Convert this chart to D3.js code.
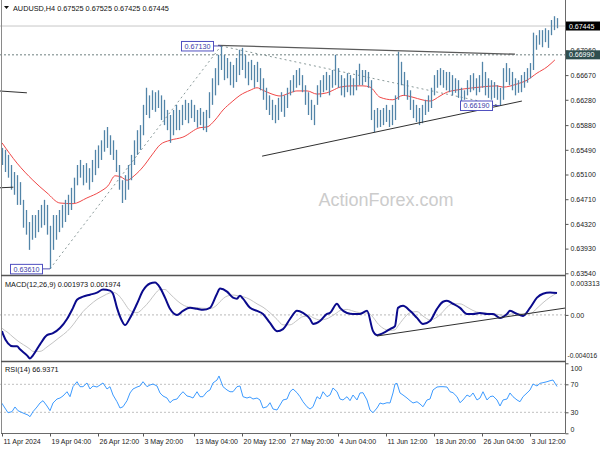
<!DOCTYPE html>
<html><head><meta charset="utf-8">
<script src="https://cdn.jsdelivr.net/npm/d3@7"></script>
<style>body{margin:0;background:#fff}svg{display:block}text{font-family:"Liberation Sans",Arial,sans-serif}</style>
</head><body><svg id="c" width="600" height="450"></svg>
<script>
// ---------- DATA ----------
const symbol = "AUDUSD,H4";
const titleOHLC = [0.67525, 0.67525, 0.67425, 0.67445];
const lastPrice = 0.67445;
const levelPrice = 0.66990;

const highs = [0.6552,0.6549,0.6541,0.6525,0.6514,0.6509,0.6498,0.6470,0.6454,0.6435,
0.6446,0.6446,0.6454,0.6462,0.6470,0.6462,0.6429,0.6446,0.6446,0.6454,
0.6462,0.6470,0.6478,0.6489,0.6505,0.6525,0.6533,0.6525,0.6528,0.6520,
0.6533,0.6549,0.6556,0.6564,0.6580,0.6585,0.6572,0.6564,0.6549,0.6525,
0.6501,0.6509,0.6525,0.6541,0.6564,0.6580,0.6588,0.6620,0.6647,0.6635,
0.6643,0.6640,0.6643,0.6635,0.6628,0.6612,0.6604,0.6612,0.6620,0.6612,
0.6620,0.6628,0.6623,0.6628,0.6620,0.6612,0.6615,0.6609,0.6612,0.6640,
0.6662,0.6678,0.6699,0.6713,0.6699,0.6694,0.6688,0.6683,0.6694,0.6707,
0.6710,0.6699,0.6688,0.6691,0.6683,0.6688,0.6678,0.6662,0.6647,0.6635,
0.6628,0.6620,0.6631,0.6640,0.6635,0.6647,0.6659,0.6667,0.6675,0.6678,
0.6667,0.6651,0.6640,0.6628,0.6620,0.6651,0.6659,0.6667,0.6672,0.6667,
0.6675,0.6699,0.6678,0.6667,0.6662,0.6670,0.6667,0.6662,0.6675,0.6685,
0.6675,0.6675,0.6672,0.6659,0.6612,0.6615,0.6612,0.6615,0.6620,0.6612,
0.6620,0.6635,0.6704,0.6688,0.6672,0.6659,0.6643,0.6628,0.6620,0.6615,
0.6620,0.6628,0.6635,0.6647,0.6667,0.6675,0.6678,0.6675,0.6672,0.6672,
0.6667,0.6662,0.6659,0.6647,0.6643,0.6659,0.6667,0.6670,0.6662,0.6667,
0.6688,0.6672,0.6662,0.6659,0.6656,0.6651,0.6647,0.6678,0.6686,0.6678,
0.6672,0.6662,0.6659,0.6667,0.6672,0.6678,0.6686,0.6734,0.6730,0.6738,
0.6738,0.6741,0.6738,0.6754,0.6760,0.6757];
const lows = [0.6525,0.6514,0.6505,0.6486,0.6478,0.6462,0.6462,0.6426,0.6415,0.6391,
0.6407,0.6410,0.6419,0.6426,0.6430,0.6415,0.6361,0.6391,0.6407,0.6419,
0.6426,0.6435,0.6446,0.6454,0.6465,0.6493,0.6505,0.6493,0.6497,0.6486,
0.6498,0.6509,0.6520,0.6533,0.6546,0.6552,0.6541,0.6533,0.6514,0.6486,
0.6465,0.6470,0.6486,0.6501,0.6525,0.6541,0.6549,0.6572,0.6604,0.6599,
0.6612,0.6609,0.6615,0.6596,0.6588,0.6580,0.6560,0.6572,0.6580,0.6580,
0.6588,0.6596,0.6591,0.6599,0.6593,0.6584,0.6588,0.6580,0.6577,0.6599,
0.6620,0.6635,0.6651,0.6675,0.6659,0.6662,0.6651,0.6647,0.6656,0.6667,
0.6675,0.6662,0.6651,0.6659,0.6647,0.6656,0.6643,0.6628,0.6612,0.6604,
0.6596,0.6591,0.6596,0.6609,0.6601,0.6615,0.6635,0.6640,0.6647,0.6651,
0.6640,0.6620,0.6604,0.6596,0.6588,0.6620,0.6632,0.6640,0.6643,0.6635,
0.6647,0.6651,0.6647,0.6635,0.6632,0.6640,0.6635,0.6635,0.6643,0.6651,
0.6651,0.6656,0.6647,0.6596,0.6577,0.6584,0.6585,0.6588,0.6593,0.6585,
0.6588,0.6596,0.6628,0.6651,0.6635,0.6628,0.6612,0.6599,0.6593,0.6588,
0.6591,0.6604,0.6609,0.6615,0.6635,0.6647,0.6651,0.6647,0.6643,0.6640,
0.6635,0.6639,0.6631,0.6620,0.6628,0.6635,0.6640,0.6643,0.6635,0.6640,
0.6647,0.6635,0.6631,0.6628,0.6631,0.6628,0.6619,0.6628,0.6656,0.6651,
0.6643,0.6635,0.6639,0.6640,0.6647,0.6655,0.6662,0.6675,0.6707,0.6715,
0.6711,0.6719,0.6710,0.6730,0.6738,0.6741];

const maIdx = [0,5,10.3,15,19.3,23.7,28.3,32.7,35.3,37.7,39.7,41.7,44.3,47,50,52.7,56,60.3,66,68.3,71,73.7,76.7,79.3,82.7,85,87,90,92.7,96,98.3,101.7,105,108.3,110.3,112.7,116.7,120.3,122.7,126,130.3,133.7,137,140,142.7,146,148.3,151,153.7,159.3,165,167,171.7,175,178.3,181.7,184.3];
const maVal = [0.6560,0.6528,0.6501,0.6481,0.6465,0.6464,0.6473,0.6483,0.6492,0.6508,0.6506,0.6501,0.6509,0.6522,0.6541,0.6557,0.6564,0.6569,0.6584,0.6585,0.6596,0.6612,0.6625,0.6635,0.6643,0.6647,0.6643,0.6637,0.6634,0.6639,0.6642,0.6642,0.6637,0.6639,0.6643,0.6648,0.6650,0.6650,0.6648,0.6632,0.6628,0.6635,0.6632,0.6628,0.6626,0.6634,0.6640,0.6643,0.6645,0.6648,0.6650,0.6648,0.6653,0.6659,0.6670,0.6680,0.6691];

const macdIdx = [0,0.33,2,3.67,5,6,8.33,9.33,10.33,12.67,15,17,19.33,21.67,23.67,25,27,29.33,31.67,33.67,36,37,38.33,40,41,42.67,45,47,49.33,51,52.67,54.33,56,58.33,60.33,62.67,65,67,69.33,71.67,72.67,75,77,78.33,79.33,80.33,82.67,85,87,89.33,91.67,93.67,96,98.33,100.33,102.67,103.67,106,108.33,109.33,111.67,112.67,115,117,119.33,121.67,123.67,125,127,129.33,131,132,133.67,136,138.33,140.33,142.67,145,147,148.33,150.33,152.67,155,157,159.33,161.67,163.67,166,168.33,169.33,171.67,173.67,176,178.33,180.33,182.67,185];
const macdVal = [-0.00147,-0.00174,-0.00257,-0.00284,-0.00284,-0.00311,-0.00366,-0.00394,-0.00366,-0.00266,-0.00183,-0.00165,-0.00119,-0.00037,0.00064,0.00137,0.00165,0.00183,0.00202,0.00229,0.00220,0.00192,0.00064,-0.00055,-0.00092,-0.00027,0.00101,0.00220,0.00284,0.00293,0.00247,0.00156,0.00055,0.00000,0.00037,0.00064,0.00055,0.00046,0.00064,0.00192,0.00238,0.00211,0.00156,0.00147,0.00174,0.00147,0.00064,0.00037,0.00009,-0.00073,-0.00147,-0.00128,-0.00037,0.00037,0.00018,-0.00037,-0.00082,-0.00055,0.00009,0.00018,0.00101,0.00064,0.00018,0.00009,0.00009,0.00037,-0.00147,-0.00183,-0.00165,-0.00128,-0.00101,0.00064,0.00082,0.00037,-0.00027,-0.00082,-0.00055,0.00055,0.00119,0.00128,0.00101,0.00064,0.00009,0.00009,0.00018,0.00009,0.00009,-0.00027,0.00009,0.00037,0.00009,-0.00009,0.00064,0.00156,0.00192,0.00202,0.001973];
const signalVal = [-0.00120,-0.00128,-0.00160,-0.00200,-0.00230,-0.00250,-0.00290,-0.00310,-0.00330,-0.00330,-0.00290,-0.00250,-0.00200,-0.00150,-0.00090,-0.00040,0.00030,0.00090,0.00140,0.00170,0.00200,0.00205,0.00190,0.00140,0.00100,0.00040,0.00020,0.00060,0.00130,0.00190,0.00230,0.00230,0.00190,0.00130,0.00090,0.00070,0.00065,0.00060,0.00058,0.00090,0.00120,0.00170,0.00180,0.00175,0.00170,0.00165,0.00140,0.00100,0.00070,0.00020,-0.00040,-0.00090,-0.00090,-0.00050,-0.00015,-0.00010,-0.00025,-0.00045,-0.00035,-0.00020,0.00020,0.00040,0.00050,0.00035,0.00020,0.00018,-0.00020,-0.00070,-0.00120,-0.00140,-0.00135,-0.00100,-0.00040,0.00020,0.00030,-0.00010,-0.00045,-0.00020,0.00030,0.00070,0.00100,0.00100,0.00070,0.00040,0.00020,0.00015,0.00012,0.00000,-0.00005,0.00005,0.00015,0.00008,0.00010,0.00060,0.00110,0.00160,0.001974];

const rsiIdx = [0,0.33,2,3.33,4.33,5.33,7,8.67,9.33,10.33,11.67,12.67,13.67,15,16,17,18.33,19.33,20.33,21.67,22.67,23.67,25,26,27,28.33,29.33,30.33,31.67,32.67,33.67,35,36,37,38.33,39.33,40.33,41.67,42.67,43.67,45,46,47,48.33,49.33,50.33,51.67,52.67,53.67,55,56,57,58.33,59.33,60.33,61.67,62.67,63.67,65,66,67,68.33,69.33,70.33,71.67,72.33,73.67,75,76,77,78.33,79.33,80.33,81.67,82.67,83.67,85,86,87,88.33,89.33,90.33,91.67,92.67,93.67,95,96,97,98.33,99.33,100.33,101.67,102.67,103.67,105,106,107,108.33,109.33,110.33,111.67,112.67,113.67,115,116,117,118.33,119.33,120.33,121.67,122.67,123.67,125,126,127,128.33,129.33,130.33,131,131.67,132.67,133.67,135,136,137,138.33,139.33,140.33,141.67,142.67,143.67,145,146,147,148.33,149.33,150.33,151.67,152.67,153.67,155,156,157,158.33,159.33,160.33,161.67,162.67,163.67,165,166,167,168.33,169.33,170.33,171.67,172.67,173.67,175,176,177,178.33,179.33,180.33,181.67,182.67,183.67,185];
const rsiVal = [42.9,40.4,29.4,30.9,37.6,32.3,29.0,26.1,23.7,30.9,37.6,43.3,46.6,39.0,32.3,43.3,49.0,50.4,53.3,59.4,52.3,66.6,73.7,66.6,66.6,71.9,63.3,67.6,66.1,69.0,71.9,63.3,66.6,54.7,45.1,36.1,37.9,46.6,57.6,63.3,66.1,67.6,73.7,66.6,69.0,70.4,67.6,57.6,53.3,50.4,43.7,47.6,49.0,54.7,59.4,53.3,52.3,50.4,59.4,52.3,52.3,59.4,61.9,71.9,76.1,81.9,66.6,61.9,59.4,59.4,66.6,67.6,52.3,50.4,51.9,49.0,50.4,47.6,36.1,37.9,43.7,34.7,33.3,40.4,47.6,49.0,59.4,63.3,58.0,52.3,45.1,37.9,34.7,37.9,52.3,49.0,59.4,52.3,54.7,64.7,59.4,49.0,47.6,52.3,46.6,54.7,47.6,57.6,58.0,47.6,33.3,29.4,36.1,43.3,41.9,43.7,43.3,57.6,70.4,71.4,57.6,54.7,50.4,46.6,43.3,45.1,41.9,37.9,47.6,49.0,61.9,66.1,66.6,66.6,66.1,59.4,58.0,52.3,43.7,47.6,54.7,52.3,57.6,47.6,50.4,59.4,47.6,52.3,53.3,47.6,39.0,47.6,49.0,57.6,52.3,47.6,45.1,52.3,57.6,61.9,70.4,67.6,71.4,72.3,73.7,75.1,76.1,66.9];

const priceTicks = [0.67060,0.66670,0.66280,0.65880,0.65490,0.65100,0.64710,0.64320,0.63930,0.63540];
const macdTicks = [0.003313, 0, -0.004016];
const macdTickText = ["0.003313","0.00","-0.004016"];
const rsiTicks = [100,70,30,0];
const rsiLevels = [70,30];
const timeIdx = [0,16,32,47,64,80,96,112,128,144,160,176];
const timeLabels = ["11 Apr 2024","19 Apr 04:00","26 Apr 12:00","3 May 20:00","13 May 04:00","20 May 12:00","27 May 20:00","4 Jun 04:00","11 Jun 12:00","18 Jun 20:00","26 Jun 04:00","3 Jul 12:00"];

// annotations (bar index, price, text)
const markIdx = [16, 73, 166];
const markPrice = [0.6361, 0.6713, 0.6619];
const markText = ["0.63610","0.67130","0.66190"];
// trend lines [idx1, price1, idx2, price2]
const solidLines = [[72,0.6714,171,0.6700],[86.7,0.6539,173.3,0.6626],[-1,0.6642,8.3,0.6639],[-1,0.6489,3.8,0.6490]];
const dottedLines = [[16,0.6361,73,0.6713],[73,0.6713,166,0.6619]];
const macdTrend = [125,-0.00191,187.7,0.00062];

// ---------- DRAW ----------
const svg = d3.select("#c");
const AX = 565.5;
const x = d3.scaleLinear().domain([0,185]).range([2,557]);
const yP = d3.scaleLinear().domain([0.6354,0.6706]).range([273.3,50.4]);
const yM = d3.scaleLinear().domain([-0.004016,0.003313]).range([359.3,278.3]);
const yR = d3.scaleLinear().domain([0,100]).range([433.3,363.3]);

const defs = svg.append("defs");
[["cm",0,0,565,275],["cmacd",0,277,565,84],["crsi",0,363,565,70]].forEach(c=>{
  defs.append("clipPath").attr("id",c[0]).append("rect").attr("x",c[1]).attr("y",c[2]).attr("width",c[3]).attr("height",c[4]);
});

// watermark
svg.append("text").attr("x",386).attr("y",206).attr("text-anchor","middle")
  .attr("font-size",18).attr("fill","#cccccc").text("ActionForex.com");

const gm = svg.append("g").attr("clip-path","url(#cm)");
gm.append("line").attr("x1",0).attr("x2",AX).attr("y1",yP(lastPrice)).attr("y2",yP(lastPrice))
  .attr("stroke","#c8c8c8").attr("stroke-width",1);
gm.append("line").attr("x1",0).attr("x2",AX).attr("y1",yP(levelPrice)).attr("y2",yP(levelPrice))
  .attr("stroke","#6d7f7f").attr("stroke-width",1).attr("stroke-dasharray","2,2");
dottedLines.forEach(l=>{
  gm.append("line").attr("x1",x(l[0])).attr("y1",yP(l[1])).attr("x2",x(l[2])).attr("y2",yP(l[3]))
    .attr("stroke","#8a9a9a").attr("stroke-width",1).attr("stroke-dasharray","2,3");
});
gm.append("path").datum(maIdx.map((d,i)=>[d,maVal[i]]))
  .attr("d",d3.line().x(d=>x(d[0])).y(d=>yP(d[1])).curve(d3.curveMonotoneX))
  .attr("fill","none").attr("stroke","#f04848").attr("stroke-width",1);
gm.append("g").selectAll("line").data(highs).join("line")
  .attr("x1",(d,i)=>x(i)+0.5).attr("x2",(d,i)=>x(i)+0.5)
  .attr("y1",d=>yP(d)).attr("y2",(d,i)=>yP(lows[i]))
  .attr("stroke","#5284a8").attr("stroke-width",1.3);
solidLines.forEach((l,k)=>{
  gm.append("line").attr("x1",x(l[0])).attr("y1",yP(l[1])).attr("x2",x(l[2])).attr("y2",yP(l[3]))
    .attr("stroke",k===0?"#5a5a5a":"#303030").attr("stroke-width",k===0?1.3:1);
});
markIdx.forEach((m,k)=>{
  const bx = x(m), by = yP(markPrice[k]);
  gm.append("line").attr("x1",bx-7).attr("x2",bx).attr("y1",by).attr("y2",by).attr("stroke","#5050b0");
  gm.append("rect").attr("x",bx-39.5).attr("y",by-4.5).attr("width",32).attr("height",9.5)
    .attr("fill","#fff").attr("stroke","#5050c0").attr("stroke-width",1);
  gm.append("text").attr("x",bx-23.5).attr("y",by+3).attr("text-anchor","middle")
    .attr("font-size",7.2).attr("fill","#3a3aa8").text(markText[k]);
});

// MACD panel
const gd = svg.append("g").attr("clip-path","url(#cmacd)");
gd.append("line").attr("x1",0).attr("x2",AX).attr("y1",yM(0)).attr("y2",yM(0))
  .attr("stroke","#b8b8b8").attr("stroke-dasharray","2,2");
gd.append("path").datum(macdIdx.map((d,i)=>[d,signalVal[i]]))
  .attr("d",d3.line().x(d=>x(d[0])).y(d=>yM(d[1])).curve(d3.curveMonotoneX))
  .attr("fill","none").attr("stroke","#c4c4c4").attr("stroke-width",1);
gd.append("path").datum(macdIdx.map((d,i)=>[d,macdVal[i]]))
  .attr("d",d3.line().x(d=>x(d[0])).y(d=>yM(d[1])).curve(d3.curveMonotoneX))
  .attr("fill","none").attr("stroke","#0a0a8c").attr("stroke-width",2);
gd.append("line").attr("x1",x(macdTrend[0])).attr("y1",yM(macdTrend[1])).attr("x2",x(macdTrend[2])).attr("y2",yM(macdTrend[3]))
  .attr("stroke","#303030").attr("stroke-width",1);

// RSI panel
const gr = svg.append("g").attr("clip-path","url(#crsi)");
rsiLevels.forEach(v=>{
  gr.append("line").attr("x1",0).attr("x2",AX).attr("y1",yR(v)).attr("y2",yR(v))
    .attr("stroke","#c0c0c0").attr("stroke-dasharray","2,2");
});
gr.append("path").datum(rsiIdx.map((d,i)=>[d,rsiVal[i]]))
  .attr("d",d3.line().x(d=>x(d[0])).y(d=>yR(d[1])))
  .attr("fill","none").attr("stroke","#3d9bff").attr("stroke-width",1);

// frames
const fr = svg.append("g").attr("stroke","#6a6a6a").attr("fill","none");
fr.append("line").attr("x1",1.5).attr("x2",1.5).attr("y1",0).attr("y2",433.5).attr("stroke","#8a8a8a");
fr.append("line").attr("x1",AX).attr("x2",AX).attr("y1",0).attr("y2",433.5);
[275.5,361.5].forEach(y=>fr.append("line").attr("x1",1).attr("x2",AX).attr("y1",y).attr("y2",y).attr("stroke-width",1.6).attr("stroke","#555"));
fr.append("line").attr("x1",1).attr("x2",AX).attr("y1",433.5).attr("y2",433.5);

// axes
function styleAxis(g){ g.select(".domain").remove(); g.selectAll("line").attr("stroke","#555");
  g.selectAll("text").attr("font-size",7).attr("fill","#222").attr("font-family",'"Liberation Sans",Arial,sans-serif'); }
svg.append("g").attr("transform",`translate(${AX},0)`)
  .call(d3.axisRight(yP).tickValues(priceTicks).tickFormat(d3.format(".5f")).tickSize(3).tickPadding(2)).call(styleAxis);
const ma = svg.append("g").attr("transform",`translate(${AX},0)`)
  .call(d3.axisRight(yM).tickValues(macdTicks).tickFormat((d,i)=>macdTickText[i]).tickSize(3).tickPadding(2)).call(styleAxis);
ma.selectAll(".tick").filter((d,i)=>i===0).select("text").attr("dy","1.05em");
ma.selectAll(".tick").filter((d,i)=>i===2).select("text").attr("dy","-0.3em").attr("x",2).attr("font-size",6.6);
ma.selectAll(".tick").filter((d,i)=>i!==1).select("line").remove();
const ra = svg.append("g").attr("transform",`translate(${AX},0)`)
  .call(d3.axisRight(yR).tickValues(rsiTicks).tickSize(3).tickPadding(2)).call(styleAxis);
ra.selectAll(".tick").filter(d=>d===100).select("text").attr("dy","1.05em");
ra.selectAll(".tick").filter(d=>d===0).select("text").attr("dy","-0.3em");
svg.append("g").attr("transform","translate(0,433.5)")
  .call(d3.axisBottom(x).tickValues(timeIdx).tickFormat((d,i)=>timeLabels[i]).tickSize(3).tickPadding(3)).call(styleAxis)
  .selectAll("text").attr("text-anchor","start").attr("dx",1);

function priceBox(p, bg){
  const y = yP(p);
  svg.append("rect").attr("x",566).attr("y",y-4.5).attr("width",34).attr("height",9).attr("fill",bg);
  svg.append("text").attr("x",569).attr("y",y+2.6).attr("font-size",7).attr("fill","#fff").text(p.toFixed(5));
}
priceBox(levelPrice,"#2f4f4f");
priceBox(lastPrice,"#000");

svg.append("path").attr("d","M4,6 L9,6 L6.5,9 Z").attr("fill","#111");
svg.append("text").attr("x",13).attr("y",10.5).attr("font-size",7.3).attr("fill","#111")
  .text(symbol + "  " + titleOHLC.map(v=>v.toFixed(5)).join(" "));
svg.append("text").attr("x",5).attr("y",286.5).attr("font-size",7.3).attr("fill","#111")
  .text("MACD(12,26,9) " + macdVal[macdVal.length-1].toFixed(6) + " " + signalVal[signalVal.length-1].toFixed(6));
svg.append("text").attr("x",5).attr("y",371.5).attr("font-size",7.3).attr("fill","#111")
  .text("RSI(14) 66.9371");
</script></body></html>
